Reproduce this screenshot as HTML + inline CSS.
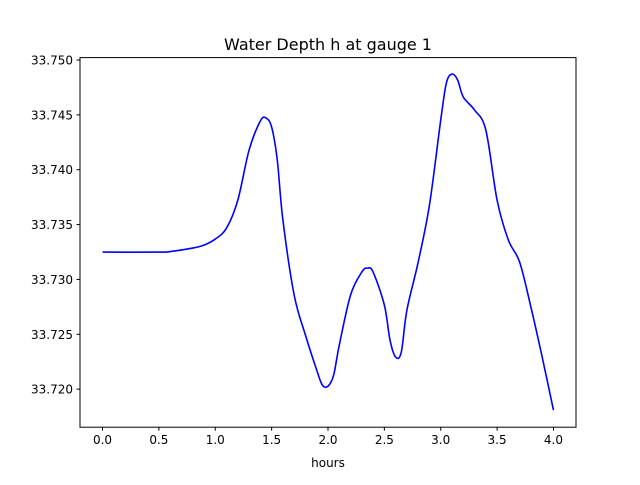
<!DOCTYPE html>
<html><head><meta charset="utf-8"><style>
body{margin:0;background:#fff;font-family:"Liberation Sans","DejaVu Sans",sans-serif;}
</style></head><body>
<svg id="chart" width="640" height="480" xmlns="http://www.w3.org/2000/svg" font-family="DejaVu Sans, Liberation Sans, sans-serif">
<rect width="640" height="480" fill="#fff"/>
<text x="328" y="50" text-anchor="middle" font-size="16">Water Depth h at gauge 1</text>
<g id="plot"></g>
<rect x="80" y="57.6" width="496" height="369.6" fill="none" stroke="#000" stroke-width="1"/>
<text x="328" y="467" text-anchor="middle" font-size="12">hours</text>
</svg>
<script>
const hours=[0,0.5,0.6,0.8,0.9,1.0,1.1,1.2,1.3,1.4,1.45,1.5,1.55,1.6,1.7,1.8,1.9,1.95,2.0,2.05,2.1,2.2,2.3,2.35,2.4,2.5,2.55,2.6,2.65,2.7,2.8,2.9,3.0,3.05,3.1,3.15,3.2,3.3,3.4,3.5,3.6,3.7,3.8,3.9,4.0];
const depth=[33.73249,33.73249,33.73254,33.73286,33.73313,33.73368,33.73468,33.73723,33.74179,33.74444,33.74471,33.74389,33.74088,33.73541,33.72857,33.72492,33.72173,33.72037,33.72027,33.72128,33.72401,33.72857,33.73067,33.73103,33.73067,33.72766,33.72447,33.72292,33.72337,33.72720,33.73158,33.73678,33.74453,33.7479,33.74872,33.74818,33.74663,33.74544,33.74362,33.73723,33.73359,33.73158,33.72748,33.72292,33.71809];
const xTicks=[0,0.5,1,1.5,2,2.5,3,3.5,4];
const xTickLabels=["0.0","0.5","1.0","1.5","2.0","2.5","3.0","3.5","4.0"];
const yTicks=[33.720,33.725,33.730,33.735,33.740,33.745,33.750];
const yTickLabels=["33.720","33.725","33.730","33.735","33.740","33.745","33.750"];
const L=80,R=576,T=57.6,B=427.2;
const xmin=-0.2,xmax=4.2,ymin=33.71653,ymax=33.75022;
const X=v=>L+(v-xmin)/(xmax-xmin)*(R-L);
const Y=v=>B-(v-ymin)/(ymax-ymin)*(B-T);
const NS="http://www.w3.org/2000/svg";
const g=document.getElementById('plot');
function mk(t,a){const e=document.createElementNS(NS,t);for(const k in a)e.setAttribute(k,a[k]);g.appendChild(e);return e;}
xTicks.forEach((v,i)=>{
 const l=mk('line',{x1:X(v),x2:X(v),y1:B,y2:B+3.5,stroke:'#000'});
 
 
 const t=mk('text',{x:X(v),y:B+17,'text-anchor':'middle','font-size':'12'});
 t.textContent=xTickLabels[i];
 
 
});
yTicks.forEach((v,i)=>{
 const l=mk('line',{x1:L-3.5,x2:L,y1:Y(v),y2:Y(v),stroke:'#000'});
 
 
 const t=mk('text',{x:L-7,y:Y(v)+4.5,'text-anchor':'end','font-size':'12'});
 t.textContent=yTickLabels[i];
 
 
});
const pts=hours.map((h,i)=>[X(h),Y(depth[i])]);
let d='M'+pts[0][0]+','+pts[0][1];
for(let i=0;i<pts.length-1;i++){
 const p0=pts[Math.max(0,i-1)],p1=pts[i],p2=pts[i+1],p3=pts[Math.min(pts.length-1,i+2)];
 const c1=[p1[0]+(p2[0]-p0[0])/6,p1[1]+(p2[1]-p0[1])/6];
 const c2=[p2[0]-(p3[0]-p1[0])/6,p2[1]-(p3[1]-p1[1])/6];
 d+=' C'+c1[0]+','+c1[1]+' '+c2[0]+','+c2[1]+' '+p2[0]+','+p2[1];
}
const path=mk('path',{d:d,fill:'none',stroke:'#0000ff','stroke-width':'1.6'});


</script>
</body></html>
